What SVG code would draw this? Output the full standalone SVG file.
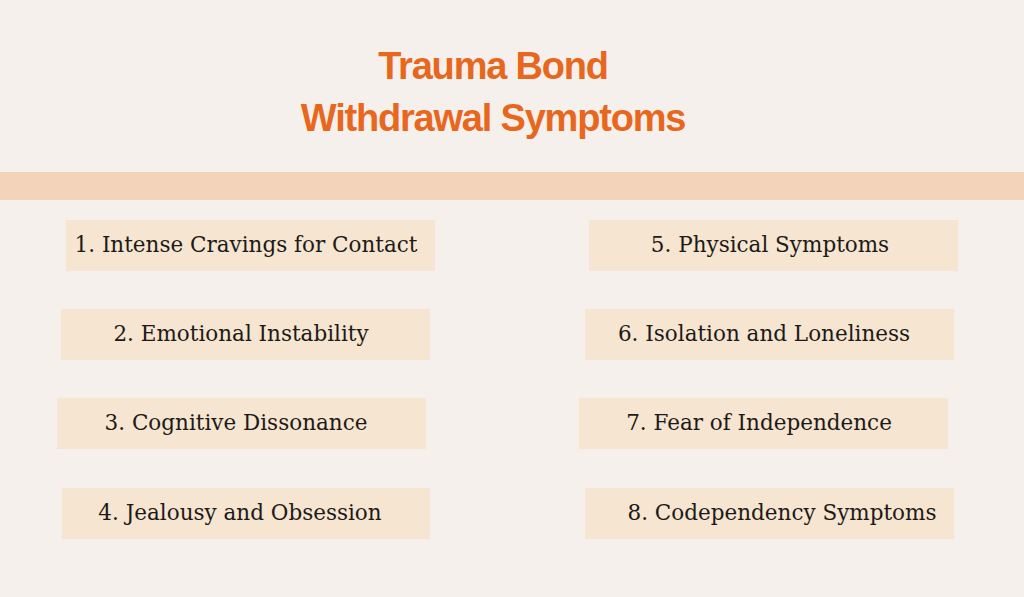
<svg xmlns="http://www.w3.org/2000/svg" width="1024" height="597" viewBox="0 0 1024 597">
<style>
.b{fill:#f5e5d1}
.t{font-family:"DejaVu Serif","Liberation Serif",serif;font-size:21.5px;fill:#1e1a17;text-anchor:middle}
.h{font-family:"Liberation Sans",Arial,sans-serif;font-weight:bold;font-size:38px;fill:#e8671f;text-anchor:middle;letter-spacing:-1.2px}
</style>
<rect width="1024" height="597" fill="#f5f0eb"/>
<rect x="0" y="172" width="1024" height="28" fill="#f3d3b9"/>
<text class="h" x="493" y="79">Trauma Bond</text>
<text class="h" x="493" y="131">Withdrawal Symptoms</text>
<g id="n1"><rect class="b" x="66" y="220" width="369" height="51"/><text class="t" x="246" y="252">1. Intense Cravings for Contact</text></g>
<g id="n2"><rect class="b" x="61" y="309" width="369" height="51"/><text class="t" x="241" y="341">2. Emotional Instability</text></g>
<g id="n3"><rect class="b" x="57" y="398" width="369" height="51"/><text class="t" x="236" y="430">3. Cognitive Dissonance</text></g>
<g id="n4"><rect class="b" x="62" y="488" width="368" height="51"/><text class="t" x="240" y="520">4. Jealousy and Obsession</text></g>
<g id="n5"><rect class="b" x="589" y="220" width="369" height="51"/><text class="t" x="770" y="252">5. Physical Symptoms</text></g>
<g id="n6"><rect class="b" x="585" y="309" width="369" height="51"/><text class="t" x="764" y="341">6. Isolation and Loneliness</text></g>
<g id="n7"><rect class="b" x="579" y="398" width="369" height="51"/><text class="t" x="759" y="430">7. Fear of Independence</text></g>
<g id="n8"><rect class="b" x="585" y="488" width="369" height="51"/><text class="t" x="782" y="520">8. Codependency Symptoms</text></g>
<g id="connectors"/>
</svg>
